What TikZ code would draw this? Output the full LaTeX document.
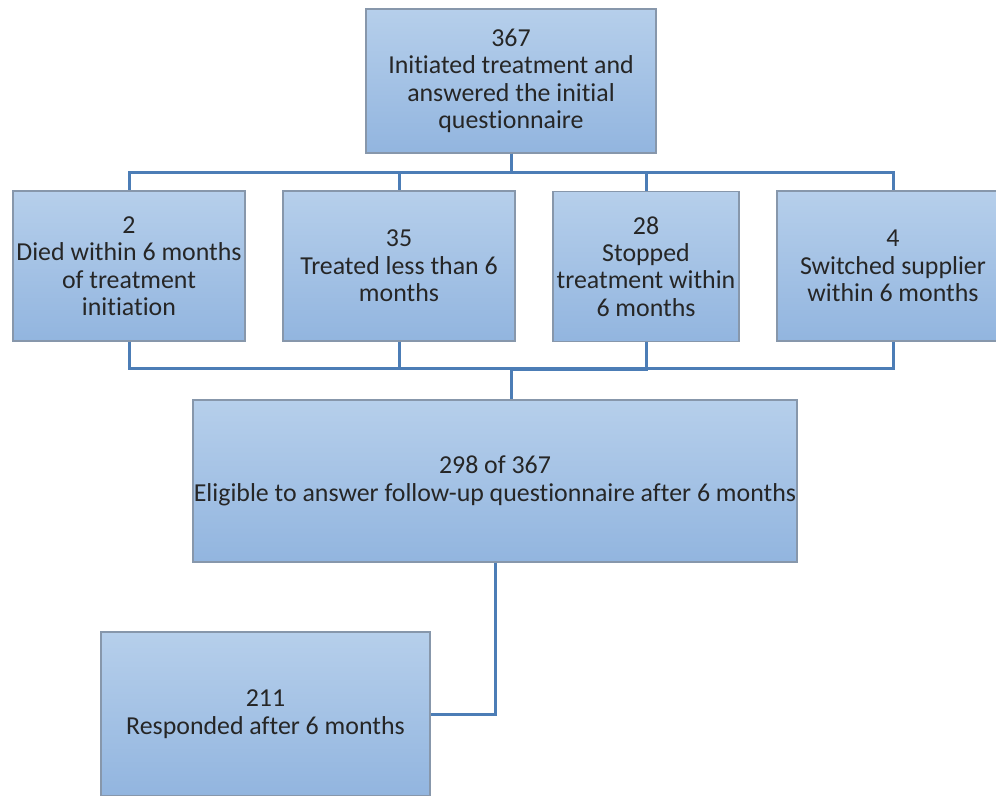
\documentclass[tikz,border=0pt]{standalone}
\usepackage{fontspec}
\setmainfont[Ligatures=NoCommon]{Carlito}
\usepackage{tikz}
\usetikzlibrary{arrows}
\usetikzlibrary{positioning}

\definecolor{boxtop}{HTML}{B6CFEB}
\definecolor{boxbot}{HTML}{92B5DF}
\definecolor{boxline}{HTML}{8797AB}
\definecolor{wire}{HTML}{4C7DB6}

\begin{document}
\begin{tikzpicture}
			[x=0.75pt,y=-0.75pt,
			every node/.style={rectangle,draw=boxline,line width=0.8pt,top color=boxtop,bottom color=boxbot,
				align=center,inner sep=0pt,text=black!85,font=\fontsize{19.4}{20.6}\selectfont},
			link/.style={draw=wire,line width=2.25pt}]
			\useasboundingbox (0,0) rectangle (996,796);
			\node[minimum width=217.5pt,minimum height=108pt] (top) at (511,81) {367\\Initiated treatment and\\answered the initial\\questionnaire};
			\node[minimum width=174pt,minimum height=112.5pt] (d1) at (129,266) {2\\Died within 6 months\\of treatment\\initiation};
			\node[minimum width=174pt,minimum height=112.5pt] (d2) at (399,266) {35\\Treated less than 6\\months};
			\node[minimum width=139.5pt,minimum height=113pt] (d3) at (646,266.5) {28\\Stopped\\treatment within\\6 months};
			\node[minimum width=174pt,minimum height=112.5pt] (d4) at (893,266) {4\\Switched supplier\\within 6 months};
			\node[minimum width=453pt,minimum height=121.5pt] (elig) at (495,481) {298 of 367\\Eligible to answer follow-up questionnaire after 6 months};
			\node[minimum width=246.75pt,minimum height=123pt] (resp) at (265.5,714) {211\\Responded after 6 months};
			
			\foreach \to in {d1,d2,d3,d4}
			\draw[link] (top.south) -- ++(0,19) -| (\to.north);
			\foreach \from in {d1,d2,d3,d4}
			\draw[link] (\from.south) -- ++(0,27) -| (elig.north -| top.south);
			\draw[link] (elig.south) |- (resp.east);
			\end{tikzpicture}
\end{document}
